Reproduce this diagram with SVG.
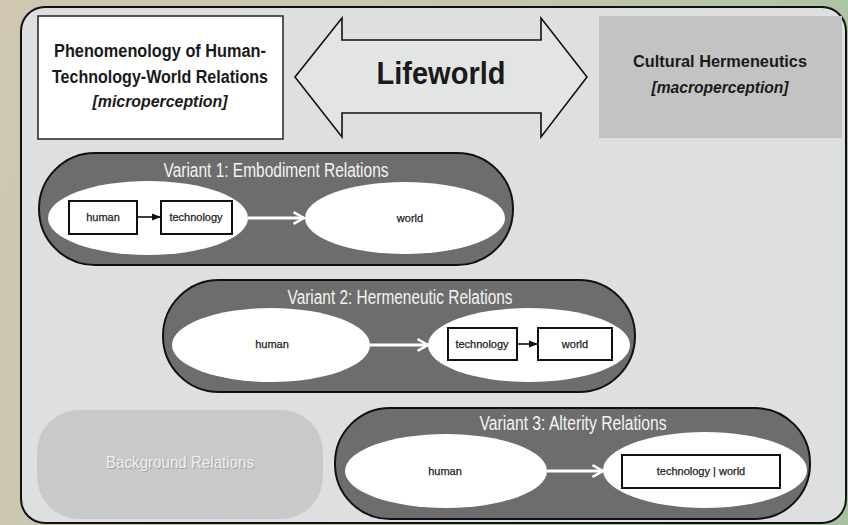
<svg xmlns="http://www.w3.org/2000/svg" width="848" height="525" viewBox="0 0 848 525">
  <defs>
    <linearGradient id="backdrop" x1="0" y1="0" x2="1" y2="0.3">
      <stop offset="0" stop-color="#cfc7b2"/>
      <stop offset="0.5" stop-color="#c9c6b0"/>
      <stop offset="1" stop-color="#a8c3a2"/>
    </linearGradient>
    <marker id="headBlack" viewBox="0 0 10 10" refX="9" refY="5" markerWidth="9" markerHeight="9" markerUnits="userSpaceOnUse" orient="auto">
      <path d="M0,1 L10,5 L0,9 Z" fill="#111"/>
    </marker>
    <marker id="headWhite" viewBox="0 0 12 12" refX="10" refY="6" markerWidth="14" markerHeight="14" markerUnits="userSpaceOnUse" orient="auto">
      <path d="M1,1 L10,6 L1,11" fill="none" stroke="#fff" stroke-width="2.2"/>
    </marker>
  </defs>
  <style>
    .heading { font-family: "Liberation Sans", Arial, sans-serif; font-weight: bold; fill: #1a1a1a; text-anchor: middle; }
    .sub { font-family: "Liberation Sans", Arial, sans-serif; font-weight: bold; font-style: italic; fill: #1a1a1a; text-anchor: middle; }
    .variant { fill: #6d6d6d; stroke: #111; stroke-width: 2; }
    .vtitle { font-family: "Liberation Sans", Arial, sans-serif; font-size: 20px; fill: #f4f4f4; text-anchor: middle; }
    .oval { fill: #fff; }
    .box { fill: #fff; stroke: #111; stroke-width: 2; }
    .small { font-family: "Liberation Sans", Arial, sans-serif; font-size: 11px; fill: #222; text-anchor: middle; dominant-baseline: central; stroke: #222; stroke-width: 0.25; }
    .blk { stroke: #111; stroke-width: 1.6; fill: none; marker-end: url(#headBlack); }
    .wht { stroke: #fff; stroke-width: 3; fill: none; marker-end: url(#headWhite); }
  </style>

  <!-- backdrop and main panel -->
  <rect x="0" y="0" width="848" height="525" fill="url(#backdrop)"/>
  <rect x="21" y="7" width="825" height="516" rx="24" fill="#dde0df" stroke="#111" stroke-width="2"/>

  <!-- top row -->
  <g id="phenomenology">
    <rect x="38" y="16" width="245" height="123" fill="#fff" stroke="#222" stroke-width="1.5"/>
    <text class="heading" x="160" y="57" font-size="17.5" textLength="212" lengthAdjust="spacingAndGlyphs">Phenomenology of Human-</text>
    <text class="heading" x="160" y="83" font-size="17.5" textLength="216" lengthAdjust="spacingAndGlyphs">Technology-World Relations</text>
    <text class="sub" x="160" y="107" font-size="16" textLength="135" lengthAdjust="spacingAndGlyphs">[microperception]</text>
  </g>

  <g id="lifeworld">
    <polygon points="295,77 342,18 342,40 541,40 541,18 587,77 541,137 541,113 342,113 342,137" fill="#e3e5e4" stroke="#111" stroke-width="1.6" stroke-linejoin="miter"/>
    <text class="heading" x="441" y="84" font-size="32" textLength="129" lengthAdjust="spacingAndGlyphs">Lifeworld</text>
  </g>

  <g id="cultural-hermeneutics">
    <rect x="599" y="16" width="243" height="122" fill="#c3c3c3"/>
    <text class="heading" x="720" y="67" font-size="17" textLength="174" lengthAdjust="spacingAndGlyphs">Cultural Hermeneutics</text>
    <text class="sub" x="720" y="93" font-size="16" textLength="137" lengthAdjust="spacingAndGlyphs">[macroperception]</text>
  </g>

  <!-- Variant 1 -->
  <g id="variant1">
    <rect class="variant" x="39" y="153" width="474" height="112" rx="56"/>
    <text class="vtitle" x="276" y="177" textLength="225" lengthAdjust="spacingAndGlyphs">Variant 1: Embodiment Relations</text>
    <ellipse class="oval" cx="148" cy="218" rx="100" ry="37"/>
    <ellipse class="oval" cx="405" cy="218" rx="100" ry="36"/>
    <text class="small" x="410" y="218">world</text>
  </g>
  <g id="v1-human">
    <rect class="box" x="69" y="201" width="68" height="33"/>
    <text class="small" x="103" y="217">human</text>
  </g>
  <g id="v1-technology">
    <rect class="box" x="161" y="201" width="71" height="33"/>
    <text class="small" x="196" y="217">technology</text>
  </g>

  <!-- Variant 2 -->
  <g id="variant2">
    <rect class="variant" x="163" y="280" width="472" height="112" rx="56"/>
    <text class="vtitle" x="400" y="304" textLength="225" lengthAdjust="spacingAndGlyphs">Variant 2: Hermeneutic Relations</text>
    <ellipse class="oval" cx="271" cy="345" rx="99" ry="37"/>
    <text class="small" x="272" y="344">human</text>
    <ellipse class="oval" cx="529" cy="345" rx="101" ry="37"/>
  </g>
  <g id="v2-technology">
    <rect class="box" x="448" y="328" width="69" height="32"/>
    <text class="small" x="482" y="344">technology</text>
  </g>
  <g id="v2-world">
    <rect class="box" x="538" y="328" width="74" height="32"/>
    <text class="small" x="575" y="344">world</text>
  </g>

  <!-- Background relations -->
  <g id="background-relations">
    <rect x="37" y="410" width="286" height="109" rx="42" fill="#c9c9c9"/>
    <text x="181" y="469" font-family="'Liberation Sans', Arial, sans-serif" font-size="17" fill="#7a7a7a" text-anchor="middle" textLength="148" lengthAdjust="spacingAndGlyphs" opacity="0.5">Background Relations</text>
    <text x="180" y="468" font-family="'Liberation Sans', Arial, sans-serif" font-size="17" fill="#efefef" text-anchor="middle" textLength="148" lengthAdjust="spacingAndGlyphs">Background Relations</text>
  </g>

  <!-- Variant 3 -->
  <g id="variant3">
    <rect class="variant" x="335" y="408" width="475" height="111" rx="55"/>
    <text class="vtitle" x="573" y="430" textLength="187" lengthAdjust="spacingAndGlyphs">Variant 3: Alterity Relations</text>
    <ellipse class="oval" cx="446" cy="471" rx="101" ry="37"/>
    <text class="small" x="445" y="471">human</text>
    <ellipse class="oval" cx="705" cy="470" rx="102" ry="38"/>
  </g>
  <g id="v3-technology-world">
    <rect class="box" x="622" y="455" width="158" height="33"/>
    <text class="small" x="701" y="471">technology | world</text>
  </g>

  <!-- connectors -->
  <g id="connectors">
    <line class="blk" x1="137" y1="217" x2="160" y2="217"/>
    <line class="wht" x1="248" y1="218" x2="304" y2="218"/>
    <line class="wht" x1="370" y1="345" x2="428" y2="345"/>
    <line class="blk" x1="517" y1="344" x2="537" y2="344"/>
    <line class="wht" x1="547" y1="471" x2="603" y2="471"/>
  </g>
</svg>
